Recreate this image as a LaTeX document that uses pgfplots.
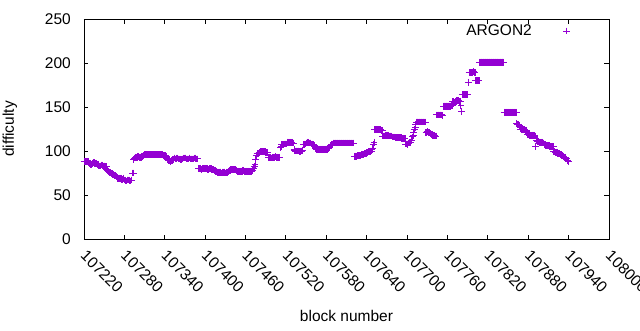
\documentclass[border=0pt]{standalone}
\usepackage{pgfplots}
\pgfplotsset{compat=1.18}
\usepackage{fontspec}
\setmainfont{Liberation Sans}
\definecolor{gp}{HTML}{9400D3}
\begin{document}
\begin{tikzpicture}
\begin{axis}[
  name=ax,
  scale only axis, width=525pt, height=220pt,
  xmin=107220, xmax=108000, ymin=0, ymax=250,
  xtick={107220,107280,107340,107400,107460,107520,107580,107640,107700,107760,107820,107880,107940,108000},
  xticklabels={107220,107280,107340,107400,107460,107520,107580,107640,107700,107760,107820,107880,107940,108000},
  ytick={0,50,100,150,200,250},
  scaled x ticks=false,
  tick align=inside, major tick length=4.5pt,
  xtick pos=both, ytick pos=both,
  every tick/.style={black, line width=0.9pt},
  axis line style={line width=0.9pt},
  /pgf/number format/assume math mode=true,
  tick label style={font=\fontsize{15.5}{18}\selectfont},
  xticklabel style={xshift=3.5pt, yshift=-10pt, rotate=-45, anchor=north west, inner sep=0pt},
  yticklabel style={anchor=east, inner sep=0pt, xshift=-13pt},
  label style={font=\fontsize{15.5}{18}\selectfont},
  xlabel={block number},
  ylabel={difficulty},
  xlabel style={at={(axis description cs:0.5,-0.35)}, anchor=center},
  ylabel style={at={(axis description cs:-0.141,0.5)}, anchor=center},
  legend style={draw=none, fill=none, at={(axis description cs:0.9267,0.9455)}, anchor=east, inner sep=0pt, font=\fontsize{15.5}{18}\selectfont, nodes={inner sep=0pt}},
  legend plot pos=right,
  legend cell align=right,
  legend image code/.code={\path[draw=none,fill=none] (0pt,-1pt) rectangle (38.5pt,1pt); \draw[#1] plot coordinates {(35pt,0pt)};},
]
\addplot[only marks, mark=+, mark size=3.4pt, color=gp, line width=0.9pt] coordinates {
(107220,88)(107221,88)(107222,88)(107223,88)(107224,88)(107225,88)(107226,88)(107227,87)(107228,86)(107229,86)
(107230,85)(107231,85)(107232,86)(107233,86)(107234,87)(107235,87)(107236,86)(107237,86)(107238,86)(107239,86)
(107240,85)(107241,85)(107242,83)(107243,83)(107244,83)(107245,83)(107246,84)(107247,84)(107248,83)(107249,83)
(107250,83)(107251,83)(107252,82)(107253,82)(107254,79)(107255,78)(107256,77)(107257,76.5)(107258,76)(107259,75.5)
(107260,75)(107261,74.5)(107262,74)(107263,73.5)(107264,73)(107265,72.5)(107266,72)(107267,71.5)(107268,71)(107269,70)
(107270,69)(107271,69)(107272,69)(107273,69)(107274,69)(107275,69)(107276,68)(107277,68)(107278,69)(107279,69)
(107280,67)(107281,67)(107282,66)(107283,66)(107284,67)(107285,67)(107286,67)(107287,67)(107288,66)(107289,66)
(107290,67)(107291,67)(107292,75)(107293,75)(107294,90)(107295,92)(107296,93)(107297,93)(107298,93)(107299,93)
(107300,94)(107301,94)(107302,93)(107303,93)(107304,93)(107305,93)(107306,94)(107307,94)(107308,95)(107309,95)
(107310,96)(107311,96)(107312,96)(107313,96)(107314,96)(107315,96)(107316,96)(107317,96)(107318,96)(107319,96)
(107320,96)(107321,96)(107322,96)(107323,96)(107324,96)(107325,96)(107326,96)(107327,96)(107328,96)(107329,96)
(107330,96)(107331,96)(107332,96)(107333,96)(107334,96)(107335,96)(107336,96)(107337,96)(107338,95)(107339,95)
(107340,95)(107341,95)(107342,94)(107343,94)(107344,90)(107345,90)(107346,89)(107347,89)(107348,88)(107349,88)
(107350,89)(107351,89)(107352,90)(107353,90)(107354,92)(107355,92)(107356,91)(107357,91)(107358,92)(107359,92)
(107360,91)(107361,91)(107362,91)(107363,91)(107364,90)(107365,90)(107366,91)(107367,91)(107368,92)(107369,92)
(107370,92)(107371,92)(107372,91)(107373,91)(107374,91)(107375,91)(107376,92)(107377,92)(107378,91)(107379,91)
(107380,91)(107381,91)(107382,91)(107383,91)(107384,92)(107385,92)(107386,91)(107387,91)(107388,91)(107389,91)
(107390,80)(107391,80)(107392,80)(107393,80)(107394,79)(107395,79)(107396,80)(107397,80)(107398,80)(107399,80)
(107400,80)(107401,80)(107402,80)(107403,80)(107404,79)(107405,79)(107406,80)(107407,80)(107408,80)(107409,80)
(107410,79)(107411,79)(107412,79)(107413,79)(107414,78)(107415,78)(107416,77)(107417,77)(107418,76)(107419,76)
(107420,76)(107421,76)(107422,76)(107423,76)(107424,75)(107425,75)(107426,76)(107427,76)(107428,76)(107429,76)
(107430,75)(107431,75)(107432,76)(107433,76)(107434,77)(107435,77)(107436,78)(107437,78)(107438,79)(107439,79)
(107440,79)(107441,79)(107442,79)(107443,79)(107444,79)(107445,79)(107446,78)(107447,78)(107448,77)(107449,77)
(107450,77)(107451,77)(107452,77)(107453,77)(107454,77)(107455,77)(107456,78)(107457,78)(107458,77)(107459,77)
(107460,77)(107461,77)(107462,77)(107463,77)(107464,77)(107465,77)(107466,77)(107467,77)(107468,77)(107469,77)
(107470,78)(107471,78)(107472,80)(107473,82)(107474,85)(107475,90)(107476,95)(107477,97)(107478,97)(107479,97)
(107480,98)(107481,98)(107482,99)(107483,99)(107484,99)(107485,99)(107486,99)(107487,99)(107488,99)(107489,99)
(107490,98)(107491,98)(107492,98)(107493,98)(107494,93)(107495,93)(107496,93)(107497,93)(107498,92)(107499,92)
(107500,93)(107501,93)(107502,93)(107503,93)(107504,94)(107505,94)(107506,93)(107507,93)(107508,93)(107509,93)
(107510,93)(107511,93)(107512,104)(107513,105)(107514,107)(107515,107)(107516,107)(107517,107)(107518,108)(107519,108)
(107520,108)(107521,108)(107522,110)(107523,110)(107524,110)(107525,110)(107526,110)(107527,110)(107528,110)(107529,110)
(107530,109)(107531,109)(107532,102)(107533,101)(107534,100)(107535,100)(107536,100)(107537,100)(107538,100)(107539,100)
(107540,99)(107541,99)(107542,100)(107543,100)(107544,101)(107545,101)(107546,107)(107547,107)(107548,108)(107549,108)
(107550,109)(107551,109)(107552,110)(107553,110)(107554,109)(107555,109)(107556,109)(107557,109)(107558,108)(107559,108)
(107560,107)(107561,107)(107562,106)(107563,106)(107564,103)(107565,103)(107566,102)(107567,102)(107568,102)(107569,102)
(107570,102)(107571,102)(107572,102)(107573,102)(107574,102)(107575,102)(107576,102)(107577,102)(107578,102)(107579,102)
(107580,102)(107581,102)(107582,103)(107583,103)(107584,104)(107585,104)(107586,106)(107587,106)(107588,108)(107589,108)
(107590,109)(107591,109)(107592,109)(107593,109)(107594,109)(107595,109)(107596,109)(107597,109)(107598,109)(107599,109)
(107600,109)(107601,109)(107602,109)(107603,109)(107604,109)(107605,109)(107606,109)(107607,109)(107608,109)(107609,109)
(107610,109)(107611,109)(107612,109)(107613,109)(107614,109)(107615,109)(107616,109)(107617,109)(107618,109)(107619,109)
(107620,109)(107621,109)(107622,94)(107623,94)(107624,94)(107625,94)(107626,95)(107627,95)(107628,95)(107629,95)
(107630,95)(107631,95)(107632,96)(107633,96)(107634,96)(107635,96)(107636,97)(107637,97)(107638,97)(107639,97)
(107640,98)(107641,98)(107642,99)(107643,99)(107644,99)(107645,99)(107646,100)(107647,100)(107648,102)(107649,103)
(107650,107)(107651,110)(107652,124)(107653,124)(107654,124)(107655,124)(107656,124)(107657,124)(107658,124)(107659,124)
(107660,124)(107661,124)(107662,123)(107663,123)(107664,117)(107665,117)(107666,117)(107667,117)(107668,118)(107669,118)
(107670,118)(107671,118)(107672,118)(107673,118)(107674,117)(107675,117)(107676,117)(107677,117)(107678,116)(107679,116)
(107680,116)(107681,116)(107682,115)(107683,115)(107684,115)(107685,115)(107686,115)(107687,115)(107688,115)(107689,115)
(107690,115)(107691,115)(107692,114)(107693,114)(107694,114)(107695,114)(107696,114)(107697,114)(107698,108)(107699,108)
(107700,107)(107701,107)(107702,109)(107703,109)(107704,110)(107705,110)(107706,112)(107707,112)(107708,116)(107709,118)
(107710,121)(107711,124)(107712,127)(107713,130)(107714,133)(107715,133)(107716,133)(107717,133)(107718,133)(107719,133)
(107720,133)(107721,133)(107722,133)(107723,133)(107724,133)(107725,133)(107726,133)(107727,133)(107728,121)(107729,121)
(107730,122)(107731,122)(107732,121)(107733,121)(107734,120)(107735,120)(107736,119)(107737,119)(107738,118)(107739,118)
(107740,118)(107741,118)(107742,117)(107743,117)(107744,141)(107745,141)(107746,141)(107747,141)(107748,141)(107749,141)
(107750,141)(107751,141)(107752,140)(107753,140)(107754,151)(107755,151)(107756,151)(107757,151)(107758,151)(107759,151)
(107760,151)(107761,151)(107762,151)(107763,151)(107764,151)(107765,151)(107766,152)(107767,152)(107768,156)(107769,156)
(107770,155)(107771,155)(107772,156)(107773,156)(107774,157)(107775,157)(107776,157)(107777,157)(107778,156)(107779,156)
(107780,152)(107781,145)(107782,164)(107783,164)(107784,164)(107785,164)(107786,164)(107787,164)(107788,164)(107789,164)
(107790,164)(107791,178)(107792,189)(107793,189)(107794,189)(107795,189)(107796,189)(107797,189)(107798,190)(107799,190)
(107800,189)(107801,189)(107802,180)(107803,180)(107804,180)(107805,180)(107806,180)(107807,180)(107808,201)(107809,201)
(107810,201)(107811,201)(107812,201)(107813,201)(107814,201)(107815,201)(107816,201)(107817,201)(107818,201)(107819,201)
(107820,201)(107821,201)(107822,201)(107823,201)(107824,201)(107825,201)(107826,201)(107827,201)(107828,201)(107829,201)
(107830,201)(107831,201)(107832,201)(107833,201)(107834,201)(107835,201)(107836,201)(107837,201)(107838,201)(107839,201)
(107840,201)(107841,201)(107842,201)(107843,201)(107844,144)(107845,144)(107846,144)(107847,144)(107848,144)(107849,144)
(107850,144)(107851,144)(107852,144)(107853,144)(107854,144)(107855,144)(107856,144)(107857,144)(107858,144)(107859,144)
(107860,144)(107861,144)(107862,144)(107863,131)(107864,130)(107865,130)(107866,130)(107867,129)(107868,125)(107869,125)
(107870,124)(107871,124)(107872,124)(107873,124)(107874,124)(107875,124)(107876,123)(107877,123)(107878,122)(107879,119)
(107880,119)(107881,119)(107882,118)(107883,118)(107884,118)(107885,118)(107886,118)(107887,118)(107888,118)(107889,118)
(107890,117)(107891,105)(107892,112)(107893,112)(107894,111)(107895,111)(107896,110)(107897,110)(107898,110)(107899,110)
(107900,110)(107901,110)(107902,109)(107903,109)(107904,107)(107905,107)(107906,106)(107907,106)(107908,106)(107909,106)
(107910,106)(107911,106)(107912,105)(107913,105)(107914,105)(107915,105)(107916,105)(107917,105)(107918,99)(107919,99)
(107920,98)(107921,98)(107922,98)(107923,98)(107924,97)(107925,97)(107926,97)(107927,97)(107928,96)(107929,96)
(107930,95)(107931,95)(107932,94)(107933,94)(107934,93)(107935,93)(107936,91)(107937,91)(107938,89)(107939,89)
(107940,88)
};
\addlegendentry{ARGON2}
\end{axis}
\pgfresetboundingbox
\path[use as bounding box] (ax.south west) ++(-84pt,-91pt) rectangle ++(640pt,330pt);
\end{tikzpicture}
\end{document}
